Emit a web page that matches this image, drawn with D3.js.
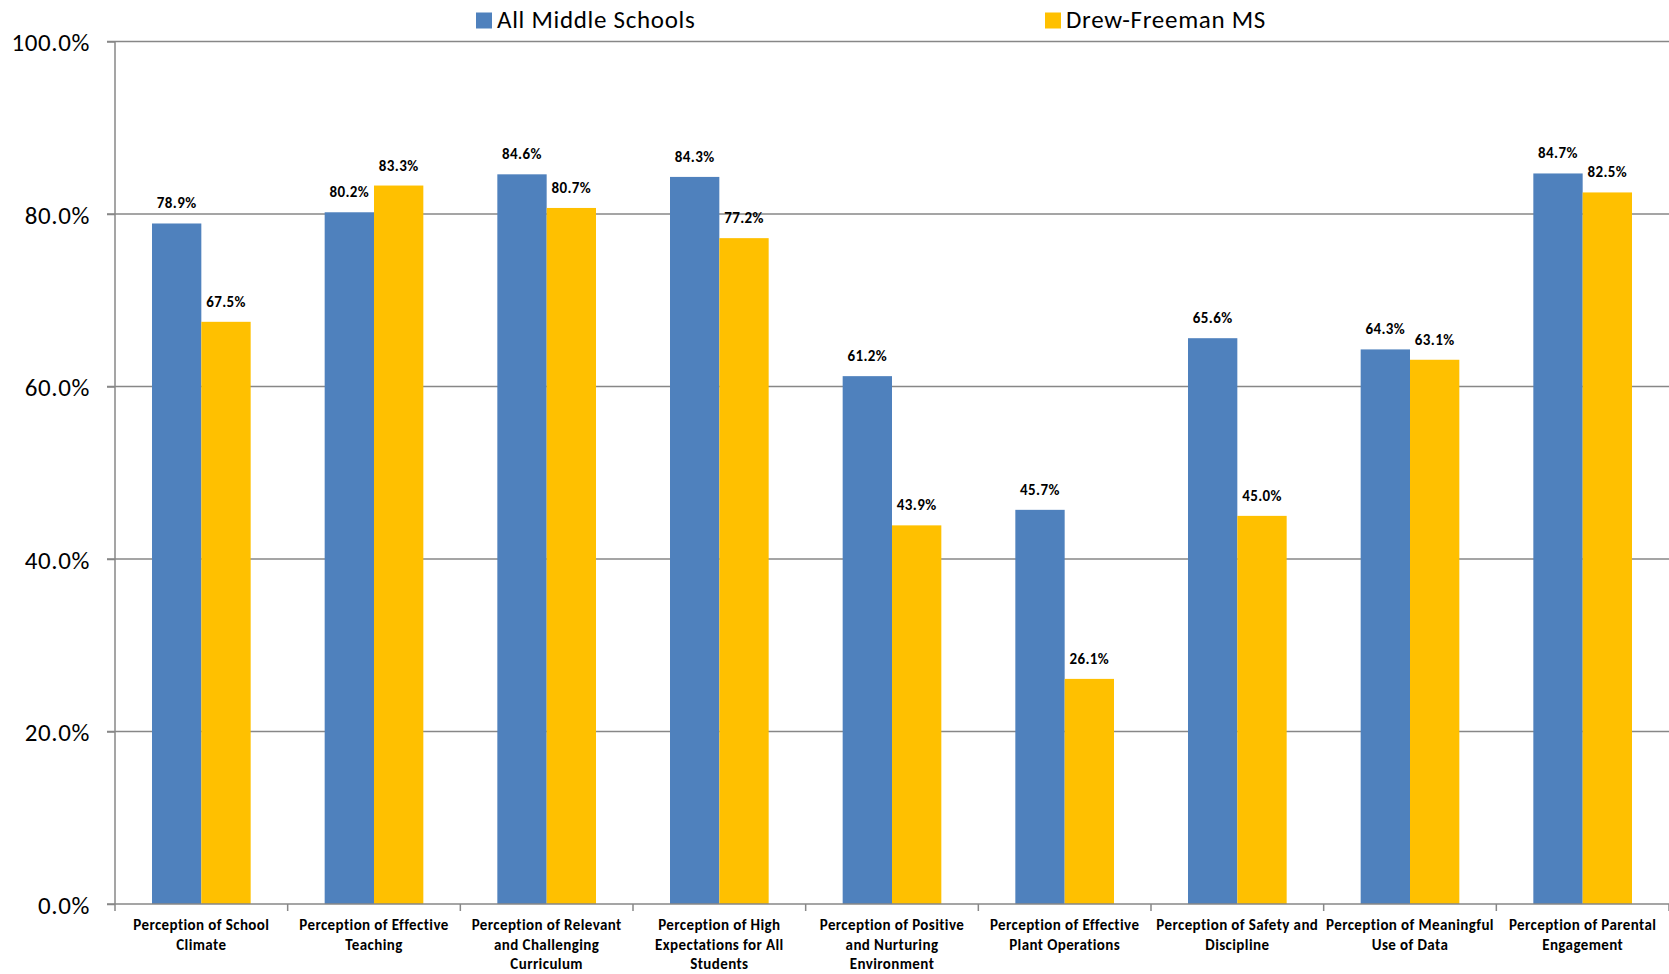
<!DOCTYPE html>
<html>
<head>
<meta charset="utf-8">
<script src="https://cdn.jsdelivr.net/npm/d3@7"></script>
<style>
  html, body { margin: 0; padding: 0; background: #fff; }
  svg { display: block; }
  text { font-family: Carlito, Calibri, Lato, "Open Sans", sans-serif; fill: #000; }
</style>
</head>
<body>
<svg id="chart" width="1669" height="974"></svg>
<script>
const categories = [
  "Perception of School\nClimate",
  "Perception of Effective\nTeaching",
  "Perception of Relevant\nand Challenging\nCurriculum",
  "Perception of High\nExpectations for All\nStudents",
  "Perception of Positive\nand Nurturing\nEnvironment",
  "Perception of Effective\nPlant Operations",
  "Perception of Safety and\nDiscipline",
  "Perception of Meaningful\nUse of Data",
  "Perception of Parental\nEngagement"
];
const seriesNames = ["All Middle Schools", "Drew-Freeman MS"];
const allMiddleSchools = [0.789, 0.802, 0.846, 0.843, 0.612, 0.457, 0.656, 0.643, 0.847];
const drewFreeman = [0.675, 0.833, 0.807, 0.772, 0.439, 0.261, 0.450, 0.631, 0.825];
const yTicks = [0, 0.2, 0.4, 0.6, 0.8, 1.0];
const colors = ["#4F81BD", "#FFC000"];

(function () {
const svg = d3.select("#chart");
const mLeft = 115, mRight = 1669, mTop = 41.5, mBottom = 904;

const x = d3.scaleBand().domain(d3.range(categories.length)).range([mLeft, mRight]).paddingInner(0).paddingOuter(0);
const barW = x.bandwidth() / 3.5;
const xs = d3.scaleBand().domain([0, 1]).range([0, barW * 2]);
const y = d3.scaleLinear().domain([0, 1]).range([mBottom, mTop]);

// gridlines
svg.append("g").selectAll("line").data(yTicks.filter(d => d > 0)).join("line")
  .attr("x1", mLeft - 8).attr("x2", mRight)
  .attr("y1", d => y(d)).attr("y2", d => y(d))
  .attr("stroke", "#878787").attr("stroke-width", 1.5);

// y axis
const yAxis = d3.axisLeft(y).tickValues(yTicks).tickFormat(d3.format(".1%")).tickSize(8).tickPadding(17);
const gy = svg.append("g").attr("transform", `translate(${mLeft},0)`).call(yAxis);
gy.select(".domain").attr("stroke", "#878787").attr("stroke-width", 1.5).attr("d", `M0,${mTop}V${mBottom}`);
gy.selectAll(".tick line").attr("stroke", "#878787").attr("stroke-width", 1.5);
gy.selectAll(".tick text").style("font-size", "25px").style("letter-spacing", "0.6px")
  .attr("fill", "#000").attr("dy", "0.36em");

// bars
const data = [allMiddleSchools, drewFreeman];
const groups = svg.append("g").selectAll("g").data(categories).join("g")
  .attr("transform", (d, i) => `translate(${x(i) + (x.bandwidth() - barW * 2) / 2},0)`);
groups.selectAll("rect").data((d, i) => data.map((s, k) => ({ k, v: s[i] }))).join("rect")
  .attr("x", d => xs(d.k)).attr("width", xs.bandwidth())
  .attr("y", d => y(d.v)).attr("height", d => mBottom - y(d.v))
  .attr("fill", d => colors[d.k]);
groups.selectAll("text.val").data((d, i) => data.map((s, k) => ({ k, v: s[i] }))).join("text")
  .attr("class", "val")
  .attr("x", d => xs(d.k) + xs.bandwidth() / 2)
  .attr("y", d => y(d.v) - 15)
  .attr("text-anchor", "middle")
  .style("font-size", "15px").style("font-weight", "bold").style("letter-spacing", "0.4px")
  .text(d => d3.format(".1%")(d.v));

// x axis
const xAxis = d3.axisBottom(x).tickSize(0).tickFormat("");
const gx = svg.append("g").attr("transform", `translate(0,${mBottom})`).call(xAxis);
gx.select(".domain").attr("stroke", "#878787").attr("stroke-width", 1.5).attr("d", `M${mLeft - 8},0H${mRight}`);
gx.selectAll(".tick").remove();
svg.append("g").selectAll("line").data(d3.range(categories.length + 1)).join("line")
  .attr("x1", i => mLeft + i * x.step()).attr("x2", i => mLeft + i * x.step())
  .attr("y1", mBottom).attr("y2", mBottom + 7)
  .attr("stroke", "#878787").attr("stroke-width", 1.5);
const labels = svg.append("g").selectAll("text").data(categories).join("text")
  .attr("text-anchor", "middle")
  .style("font-size", "15px").style("font-weight", "bold").style("letter-spacing", "0.4px")
  .attr("transform", (d, i) => `translate(${x(i) + x.bandwidth() / 2},${mBottom + 26})`);
labels.selectAll("tspan").data(d => d.split("\n")).join("tspan")
  .attr("x", 0).attr("y", (d, j) => j * 19.5).text(d => d);

// legend
const legendX = [476, 1045];
const lg = svg.append("g").selectAll("g").data(seriesNames).join("g")
  .attr("transform", (d, i) => `translate(${legendX[i]},0)`);
lg.append("rect").attr("x", 0).attr("y", 12.5).attr("width", 16).attr("height", 16).attr("fill", (d, i) => colors[i]);
lg.append("text").attr("x", 21).attr("y", 28).style("font-size", "25px").style("letter-spacing", "0.7px").text(d => d);
})();
</script>
</body>
</html>
